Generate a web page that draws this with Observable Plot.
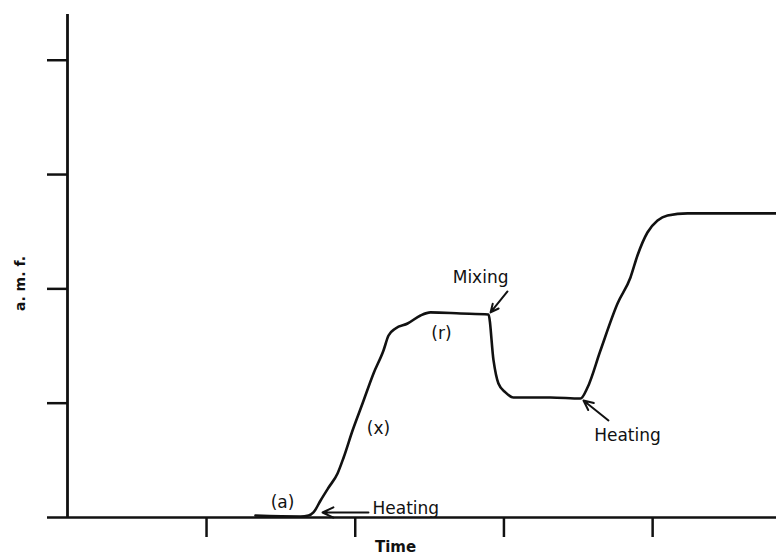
<!DOCTYPE html>
<html><head><meta charset="utf-8">
<script src="https://cdn.jsdelivr.net/npm/d3@7"></script>
<script src="https://cdn.jsdelivr.net/npm/@observablehq/plot@0.6"></script>
<style>body{margin:0;background:#fff}svg{font-family:"DejaVu Sans",sans-serif}</style>
</head><body><div id="chart"></div>
<script>
// Curve (time in tick units, a.m.f. in tick units)
const time = [1.329,1.632,1.686,1.719,1.767,1.821,1.881,1.922,1.982,2.049,2.123,2.190,2.224,2.271,2.352,2.439,2.506,2.708,2.896,2.930,2.963,3.010,3.064,3.313,3.515,3.562,3.649,3.764,3.851,3.898,3.965,4.033,4.100,4.235,4.833];
const amf  = [0.017,0.009,0.017,0.044,0.149,0.262,0.385,0.525,0.761,0.997,1.260,1.461,1.592,1.654,1.697,1.767,1.794,1.785,1.776,1.374,1.172,1.094,1.050,1.050,1.041,1.137,1.461,1.872,2.100,2.292,2.493,2.598,2.642,2.660,2.660];

const xTicks = [1, 2, 3, 4];
const yTicks = [0, 1, 2, 3, 4];
const xDomain = [0.065, 4.833];
const yDomain = [0, 4.4];

// Annotations
const labelText = ["(a)", "(x)", "(r)", "Mixing", "Heating", "Heating"];
const labelX    = [1.511, 2.156, 2.580, 2.843, 2.116, 3.831];
const labelY    = [0.131, 0.779, 1.610, 2.100, 0.079, 0.717];
const labelAnchor = ["middle","middle","middle","middle","start","middle"];

const arrowX1 = [2.089, 3.024, 3.703];
const arrowY1 = [0.044, 1.977, 0.849];
const arrowX2 = [1.780, 2.910, 3.535];
const arrowY2 = [0.044, 1.794, 1.024];

const xTitle = "Time";
const yTitle = "a. m. f.";

const curve = time.map((t, i) => ({t, v: amf[i]}));
const labels = labelText.map((s, i) => ({s, x: labelX[i], y: labelY[i], a: labelAnchor[i]}));
const arrows = arrowX1.map((x1, i) => ({x1, y1: arrowY1[i], x2: arrowX2[i], y2: arrowY2[i]}));
const ink = "#111";

const chart = Plot.plot({
  width: 776, height: 557,
  marginLeft: 67, marginRight: 0, marginTop: 14, marginBottom: 40,
  x: {domain: xDomain},
  y: {domain: yDomain},
  style: {fontFamily: "DejaVu Sans, sans-serif", background: "#fff"},
  marks: [
    Plot.axisX(xTicks, {tickSize: 20, tickFormat: () => "", stroke: ink, strokeWidth: 2.5, label: null}),
    Plot.axisY(yTicks, {tickSize: 20, tickFormat: () => "", stroke: ink, strokeWidth: 2.5, label: null}),
    Plot.ruleY([0], {stroke: ink, strokeWidth: 2.5}),
    Plot.ruleX([xDomain[0]], {y1: yDomain[0], y2: yDomain[1], stroke: ink, strokeWidth: 2.8}),
    Plot.line(curve, {x: "t", y: "v", stroke: ink, strokeWidth: 2.6, curve: "monotone-x"}),
    Plot.arrow(arrows, {x1: "x1", y1: "y1", x2: "x2", y2: "y2", stroke: ink, strokeWidth: 2, headLength: 9, headAngle: 50}),
    ...["start", "middle"].map(anc => Plot.text(labels.filter(d => d.a === anc), {
      x: "x", y: "y", text: "s", textAnchor: anc, fontSize: 17, fill: ink,
      style: "letter-spacing:1.6px"
    })),
    Plot.text([xTitle], {x: 2.271, y: 0, dy: 30, fontSize: 15, fill: ink, fontWeight: "bold"}),
    Plot.text([yTitle], {x: xDomain[0], y: 2.047, dx: -47, rotate: -90, fontSize: 14, fill: ink, fontWeight: "bold"})
  ]
});
document.getElementById("chart").appendChild(chart);
</script>
</body></html>
